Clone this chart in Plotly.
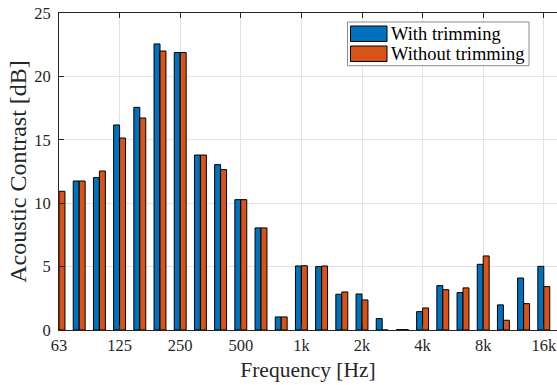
import plotly.graph_objects as go

# One-third octave band centre frequencies
bands = ["63", "80", "100", "125", "160", "200", "250", "315", "400", "500",
         "630", "800", "1k", "1.25k", "1.6k", "2k", "2.5k", "3.15k", "4k",
         "5k", "6.3k", "8k", "10k", "12.5k", "16k"]

# Acoustic contrast per band [dB]
with_trimming = [10.9, 11.75, 12.02, 16.17, 17.56, 22.56, 21.88, 13.8, 13.04, 10.28,
                 8.05, 1.03, 5.05, 5.0, 2.82, 2.84, 0.9, 0.03, 1.45,
                 3.5, 2.95, 5.18, 1.98, 4.1, 5.02]
without_trimming = [10.94, 11.75, 12.54, 15.14, 16.72, 22.0, 21.88, 13.8, 12.65, 10.28,
                    8.05, 1.03, 5.07, 5.05, 3.0, 2.37, 0.0, 0.03, 1.74,
                    3.18, 3.32, 5.84, 0.77, 2.08, 3.42]

tick_bands = ["63", "125", "250", "500", "1k", "2k", "4k", "8k", "16k"]

series_names = ["With trimming", "Without trimming"]
colors = ["#0072BD", "#D95319"]

W, H = 557, 385
ML, MR, MT, MB = 59, 0, 13, 55
PW, PH = W - ML - MR, H - MT - MB

serif = "Liberation Serif, Times New Roman, serif"
axis_col = "#262626"

fig = go.Figure()
for name, vals, col in zip(series_names, [with_trimming, without_trimming], colors):
    fig.add_trace(go.Bar(
        x=bands, y=vals, name=name,
        marker=dict(color=col, line=dict(color="black", width=1)),
        showlegend=False,
    ))


def px_x(p):
    return (p - ML) / PW


def px_y(p):
    return (H - MB - p) / PH


# Legend box drawn by hand so the colour keys are wide rectangles
shapes = [dict(type="rect", xref="paper", yref="paper",
               x0=px_x(347.5), x1=px_x(529), y0=px_y(22), y1=px_y(65.7),
               line=dict(color="#8c8c8c", width=1), fillcolor="white", layer="above")]
annotations = []
for i, (name, col) in enumerate(zip(series_names, colors)):
    top = 26 + 20 * i
    shapes.append(dict(type="rect", xref="paper", yref="paper",
                       x0=px_x(350.5), x1=px_x(387), y0=px_y(top), y1=px_y(top + 15.5),
                       line=dict(color="black", width=1), fillcolor=col, layer="above"))
    annotations.append(dict(xref="paper", yref="paper", x=px_x(388.5), y=px_y(top + 8),
                            xanchor="left", yanchor="middle", showarrow=False,
                            text=name, font=dict(family=serif, size=18.5, color="black")))

fig.update_layout(
    width=W, height=H,
    margin=dict(l=ML, r=MR, t=MT, b=MB),
    paper_bgcolor="white", plot_bgcolor="white",
    barmode="group", bargap=0.41, bargroupgap=0,
    font=dict(family=serif, size=16, color=axis_col),
    shapes=shapes, annotations=annotations,
    showlegend=False,
)
fig.update_xaxes(
    type="category", categoryorder="array", categoryarray=bands,
    range=[0, PW / 20.2],
    tickmode="array", tickvals=tick_bands, ticktext=tick_bands,
    showgrid=True, gridcolor="#e3e3e3", gridwidth=1,
    showline=True, linecolor=axis_col, linewidth=1, mirror="ticks",
    ticks="inside", ticklen=5, tickcolor=axis_col,
    tickfont=dict(family=serif, size=16.5, color=axis_col),
    title=dict(text="Frequency [Hz]", font=dict(family=serif, size=21.5, color=axis_col), standoff=8),
    zeroline=False,
)
fig.update_yaxes(
    range=[0, 25], dtick=5,
    showgrid=True, gridcolor="#e3e3e3", gridwidth=1,
    showline=True, linecolor=axis_col, linewidth=1, mirror=False,
    ticks="inside", ticklen=5, tickcolor=axis_col,
    tickfont=dict(family=serif, size=16.5, color=axis_col),
    ticklabelstandoff=4,
    title=dict(text="Acoustic Contrast [dB]", font=dict(family=serif, size=24, color=axis_col), standoff=0),
    zeroline=False,
)

fig.write_html("out.html")
